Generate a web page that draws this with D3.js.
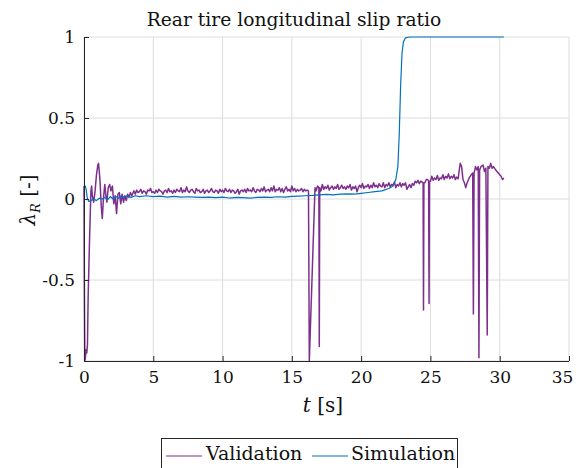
<!DOCTYPE html>
<html><head><meta charset="utf-8">
<script src="https://cdn.jsdelivr.net/npm/d3@7"></script>
<style>body{margin:0;background:#fff;} svg{display:block;}</style>
</head><body><svg id="c" width="578" height="468"></svg>
<script>
const titleText = "Rear tire longitudinal slip ratio";
const xTicks = [0,5,10,15,20,25,30,35];
const yTicks = [-1,-0.5,0,0.5,1];
const yTickLabels = ["-1","-0.5","0","0.5","1"];
const seriesNames = ["Validation","Simulation"];
const seriesColors = ["#7E2F8E","#0072BD"];

const validation = [
[0,0.08],[0.03,-0.6],[0.06,-1.0],[0.1,-0.98],[0.15,-0.93],[0.2,-0.95],[0.25,-0.9],[0.3,-0.6],[0.4,-0.25],[0.5,0.05],[0.55,0.08],[0.6,0.02],[0.7,-0.02],[0.8,0.05],[0.9,0.15],[1.0,0.21],[1.05,0.22],[1.15,0.12],[1.25,-0.05],[1.32,-0.12],[1.4,0.0],[1.5,0.09],[1.58,0.02],[1.65,-0.02],[1.75,0.07],[1.85,0.09],[1.95,0.05],[2.05,0.08],[2.15,-0.03],[2.25,0.02],[2.35,-0.09],[2.45,0.03],[2.55,0.04],[2.65,-0.03],[2.75,0.03],[2.85,-0.02],[2.95,0.02],[3.05,-0.01],[3.15,0.03],[3.25,0.01],[3.35,0.04],[3.45,0.02],[3.55,0.04],
[3.6,0.05],[3.7,0.03],[3.8,0.055],[3.9,0.04],[4.0,0.045],[4.1,0.06],[4.2,0.035],[4.3,0.05],[4.4,0.045],[4.5,0.03],[4.6,0.055],[4.7,0.05],[4.8,0.065],[4.9,0.04],[5.0,0.045],[5.1,0.035],[5.2,0.055],[5.3,0.04],[5.4,0.06],[5.5,0.05],[5.6,0.045],[5.7,0.03],[5.8,0.05],[5.9,0.055],[6.0,0.04],[6.1,0.065],[6.2,0.045],[6.3,0.05],[6.4,0.035],[6.5,0.055],[6.6,0.04],[6.7,0.06],[6.8,0.05],[6.9,0.045],[7.0,0.07],[7.1,0.04],[7.2,0.055],[7.3,0.045],[7.4,0.075],[7.5,0.05],[7.6,0.04],[7.7,0.055],[7.8,0.06],[7.9,0.045],[8.0,0.035],[8.1,0.065],[8.2,0.05],[8.3,0.055],[8.4,0.04],[8.5,0.045],[8.6,0.06],[8.7,0.035],[8.8,0.05],[8.9,0.055],[9.0,0.04],[9.1,0.05],[9.2,0.065],[9.3,0.045],[9.4,0.04],[9.5,0.055],[9.6,0.05],[9.7,0.035],[9.8,0.06],[9.9,0.045],[10.0,0.055],[10.1,0.04],[10.2,0.065],[10.3,0.05],[10.4,0.045],[10.5,0.06],[10.6,0.04],[10.7,0.055],[10.8,0.05],[10.9,0.035],[11.0,0.045],[11.1,0.06],[11.2,0.03],[11.3,0.05],[11.4,0.055],[11.5,0.045],[11.6,0.06],[11.7,0.04],[11.8,0.065],[11.9,0.05],[12.0,0.055],[12.1,0.045],[12.2,0.07],[12.3,0.05],[12.4,0.04],[12.5,0.06],[12.6,0.055],[12.7,0.045],[12.8,0.065],[12.9,0.05],[13.0,0.075],[13.1,0.045],[13.2,0.055],[13.3,0.06],[13.4,0.045],[13.5,0.07],[13.6,0.05],[13.7,0.08],[13.8,0.045],[13.9,0.06],[14.0,0.055],[14.1,0.07],[14.2,0.045],[14.3,0.065],[14.4,0.04],[14.5,0.06],[14.6,0.075],[14.7,0.05],[14.8,0.06],[14.9,0.045],[15.0,0.08],[15.1,0.05],[15.2,0.065],[15.3,0.045],[15.4,0.06],[15.5,0.05],[15.6,0.055],[15.7,0.065],[15.8,0.045],[15.9,0.06],[16.0,0.05],[16.1,0.055],[16.2,0.05],
[16.26,-1.0],[16.67,0.07],[16.75,0.05],[16.85,0.08],[16.95,0.07],[16.98,-0.91],[17.01,0.07],
[17.1,0.05],[17.2,0.09],[17.3,0.06],[17.4,0.075],[17.5,0.065],[17.6,0.085],[17.7,0.055],[17.8,0.07],[17.9,0.08],[18.0,0.06],[18.1,0.075],[18.2,0.065],[18.3,0.09],[18.4,0.06],[18.5,0.07],[18.6,0.085],[18.7,0.065],[18.8,0.075],[18.9,0.06],[19.0,0.08],[19.1,0.07],[19.2,0.09],[19.3,0.055],[19.4,0.075],[19.5,0.065],[19.6,0.08],[19.7,0.045],[19.8,0.07],[19.9,0.085],[20.0,0.07],[20.1,0.095],[20.2,0.065],[20.3,0.08],[20.4,0.075],[20.5,0.09],[20.6,0.065],[20.7,0.085],[20.8,0.07],[20.9,0.1],[21.0,0.075],[21.1,0.085],[21.2,0.07],[21.3,0.095],[21.4,0.08],[21.5,0.075],[21.6,0.1],[21.7,0.07],[21.8,0.09],[21.9,0.08],[22.0,0.1],[22.1,0.075],[22.2,0.09],[22.3,0.085],[22.4,0.105],[22.5,0.07],[22.6,0.09],[22.7,0.08],[22.8,0.1],[22.9,0.075],[23.0,0.095],[23.1,0.085],[23.2,0.1],[23.3,0.06],[23.4,0.075],[23.5,0.09],[23.6,0.07],[23.7,0.095],[23.8,0.085],[23.9,0.11],[24.0,0.1],[24.1,0.115],[24.2,0.095],[24.3,0.11],[24.4,0.105],
[24.47,0.1],[24.5,-0.685],[24.53,0.1],[24.6,0.1],[24.7,0.12],[24.8,0.12],[24.87,0.11],[24.9,-0.645],[24.93,0.11],
[25.0,0.11],[25.1,0.14],[25.2,0.115],[25.3,0.13],[25.4,0.12],[25.5,0.145],[25.6,0.115],[25.7,0.13],[25.8,0.125],[25.9,0.15],[26.0,0.12],[26.1,0.14],[26.2,0.13],[26.3,0.155],[26.4,0.125],[26.5,0.14],[26.6,0.13],[26.7,0.15],[26.8,0.12],[26.9,0.135],[27.0,0.125],
[27.1,0.19],[27.15,0.22],[27.25,0.2],[27.35,0.12],[27.45,0.1],[27.55,0.07],[27.65,0.1],[27.8,0.13],[27.95,0.15],[28.05,0.16],[28.1,-0.71],[28.15,0.16],[28.25,0.2],[28.35,0.18],[28.45,0.2],[28.5,-0.98],[28.55,0.18],[28.65,0.2],[28.8,0.21],[28.9,0.17],[29.0,0.19],[29.1,-0.84],[29.15,0.2],[29.25,0.19],[29.35,0.22],[29.45,0.19],[29.55,0.2],[29.7,0.18],[29.8,0.17],[29.9,0.16],[30.0,0.15],[30.1,0.14],[30.2,0.12],[30.3,0.13]
];

const simulation = [
[0.05,0.075],[0.1,0.08],[0.15,0.06],[0.25,0.0],[0.35,-0.015],[0.5,-0.01],[0.7,0.0],[0.9,-0.01],[1.1,0.005],[1.3,0.0],[1.5,0.01],[1.7,-0.005],[1.9,0.015],[2.1,0.0],[2.3,0.015],[2.5,0.005],[2.7,0.02],[2.9,0.01],[3.1,0.02],[3.4,0.01],[3.7,0.02],[4.0,0.015],[4.5,0.02],[5.0,0.015],[5.5,0.018],[6.0,0.012],[6.5,0.016],[7.0,0.012],[7.5,0.014],[8.0,0.012],[8.5,0.01],[9.0,0.012],[9.5,0.008],[10.0,0.012],[10.5,0.006],[11.0,0.01],[11.5,0.008],[12.0,0.006],[12.5,0.01],[13.0,0.012],[13.5,0.01],[14.0,0.014],[14.5,0.012],[15.0,0.016],[15.5,0.018],[16.0,0.02],[16.5,0.022],[17.0,0.025],[17.5,0.028],[18.0,0.026],[18.5,0.03],[19.0,0.032],[19.5,0.03],[20.0,0.035],[20.5,0.04],[21.0,0.045],[21.5,0.05],[22.0,0.065],[22.3,0.08],[22.5,0.12],[22.65,0.2],[22.75,0.4],[22.85,0.7],[22.95,0.9],[23.05,0.97],[23.2,0.995],[23.5,1.0],[30.3,1.0]
];

const svg = d3.select("#c");
const m = {l:84, r:569, t:37, b:361};
const x = d3.scaleLinear().domain([0,35]).range([m.l, m.r]);
const y = d3.scaleLinear().domain([-1,1]).range([m.b, m.t]);
const serif = "'DejaVu Serif','Liberation Serif','Noto Serif',serif";

// grid
const g = svg.append("g");
g.selectAll(".gx").data(xTicks).enter().append("line")
  .attr("x1", d=>x(d)).attr("x2", d=>x(d)).attr("y1", m.t).attr("y2", m.b)
  .attr("stroke", "#dcdcdc").attr("stroke-width", 1);
g.selectAll(".gy").data(yTicks).enter().append("line")
  .attr("y1", d=>y(d)).attr("y2", d=>y(d)).attr("x1", m.l).attr("x2", m.r)
  .attr("stroke", "#dcdcdc").attr("stroke-width", 1);

// lines
const line = d3.line().x(d=>x(d[0])).y(d=>y(d[1]));
svg.append("path").datum(validation).attr("d", line).attr("fill","none")
  .attr("stroke", seriesColors[0]).attr("stroke-width", 1.5).attr("stroke-linejoin","round");
svg.append("path").datum(simulation).attr("d", line).attr("fill","none")
  .attr("stroke", seriesColors[1]).attr("stroke-width", 1.2).attr("stroke-linejoin","round");

// axes
const xAxis = d3.axisBottom(x).tickValues(xTicks).tickSize(-5).tickPadding(10).tickFormat(d3.format("d"));
const yAxis = d3.axisLeft(y).tickValues(yTicks).tickSize(-5).tickPadding(9).tickFormat((d,i)=>yTickLabels[i]);
const ax = svg.append("g").attr("transform", `translate(0,${m.b})`).call(xAxis);
const ay = svg.append("g").attr("transform", `translate(${m.l},0)`).call(yAxis);
[ax, ay].forEach(a => {
  a.attr("font-family", null).attr("font-size", null);
  a.select(".domain").attr("stroke", "#262626").attr("stroke-width", 1);
  a.selectAll(".tick line").attr("stroke", "#262626");
  a.selectAll("text").attr("fill", "#111").attr("font-family", serif).attr("font-size", 17);
});
ay.select(".domain").attr("d", `M0.5,${m.b}V${m.t}`);
ax.select(".domain").attr("d", `M${m.l},0.5H${m.r}`);
// keep the last x tick label inside the picture
ax.selectAll(".tick text").filter(d => d === 35).attr("x", -7);

// title
svg.append("text").attr("x", 294).attr("y", 26).attr("text-anchor","middle")
  .attr("font-family", serif).attr("font-size",18.7).attr("fill","#111").text(titleText);

// x label
const xl = svg.append("text").attr("x", 323).attr("y", 412).attr("text-anchor","middle")
  .attr("font-family", serif).attr("font-size",20).attr("fill","#111");
xl.append("tspan").attr("font-style","italic").text("t");
xl.append("tspan").text(" [s]");

// y label
const yl = svg.append("text").attr("transform","translate(35,200) rotate(-90)").attr("text-anchor","middle")
  .attr("font-family", serif).attr("font-size",20).attr("fill","#111");
yl.append("tspan").attr("font-style","italic").text("λ");
yl.append("tspan").attr("font-style","italic").attr("font-size",13).attr("dy", 5).text("R");
yl.append("tspan").attr("dy", -5).text(" [-]");

// legend
const lg = svg.append("g");
lg.append("rect").attr("x", 161.5).attr("y", 438.5).attr("width", 296).attr("height", 40)
  .attr("fill","#fff").attr("stroke","#262626").attr("stroke-width",1);
const legX = [[166,202,206],[312,348,351]];
seriesNames.forEach((n,i) => {
  lg.append("line").attr("x1", legX[i][0]).attr("x2", legX[i][1]).attr("y1", 456).attr("y2", 456)
    .attr("stroke", seriesColors[i]).attr("stroke-width", 1.2);
  lg.append("text").attr("x", legX[i][2]).attr("y", 460).attr("font-family", serif)
    .attr("font-size",19).attr("fill","#111").text(n);
});
</script>
</body></html>
